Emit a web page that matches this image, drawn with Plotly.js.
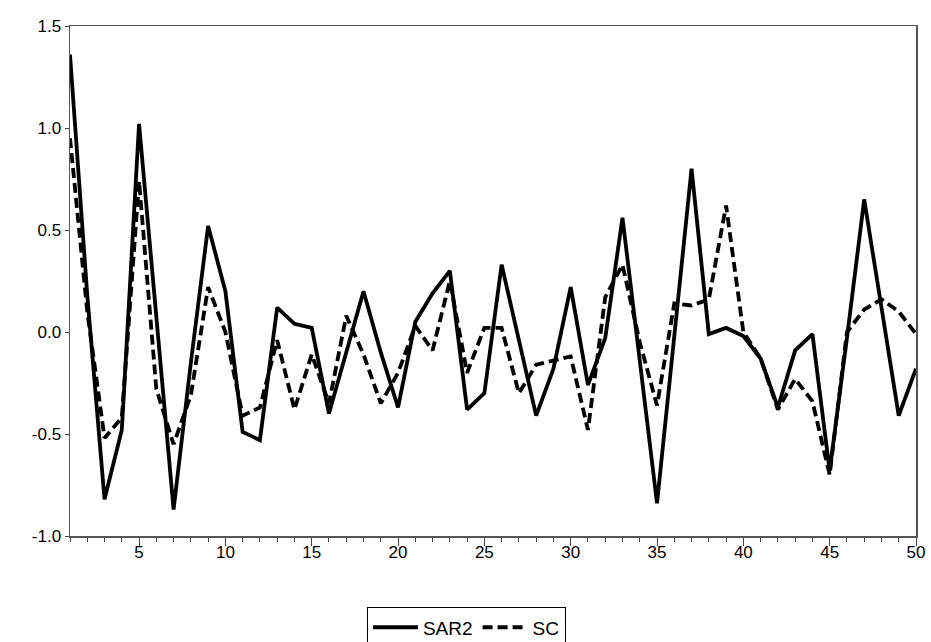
<!DOCTYPE html>
<html>
<head>
<meta charset="utf-8">
<script src="https://cdn.plot.ly/plotly-3.0.1.min.js"></script>
<style>
html,body{margin:0;padding:0;background:#fff;}
#chart{width:931px;height:642px;}
</style>
</head>
<body>
<div id="chart"></div>
<script>
const periods = Array.from({length: 50}, (_, i) => i + 1);
const sar2 = [1.36, 0.18, -0.82, -0.48, 1.02, 0.05, -0.87, -0.15, 0.52, 0.20,
              -0.49, -0.53, 0.12, 0.04, 0.02, -0.40, -0.10, 0.20, -0.10, -0.37,
              0.05, 0.19, 0.30, -0.38, -0.30, 0.33, -0.04, -0.41, -0.18, 0.22,
              -0.26, -0.03, 0.56, -0.14, -0.84, -0.02, 0.80, -0.01, 0.02, -0.02,
              -0.13, -0.37, -0.09, -0.01, -0.68, -0.03, 0.65, 0.12, -0.41, -0.18];
const sc = [0.95, 0.10, -0.52, -0.42, 0.74, -0.28, -0.55, -0.31, 0.22, 0.00,
            -0.41, -0.37, -0.04, -0.38, -0.11, -0.35, 0.08, -0.11, -0.35, -0.20,
            0.03, -0.09, 0.25, -0.20, 0.02, 0.02, -0.30, -0.16, -0.14, -0.12,
            -0.48, 0.17, 0.33, -0.05, -0.36, 0.14, 0.13, 0.16, 0.62, 0.00,
            -0.13, -0.38, -0.23, -0.34, -0.70, 0.00, 0.11, 0.16, 0.10, -0.01];
const xTicks = [5, 10, 15, 20, 25, 30, 35, 40, 45, 50];
const yTicks = [-1.0, -0.5, 0.0, 0.5, 1.0, 1.5];
const yTickText = ["-1.0", "-0.5", "0.0", "0.5", "1.0", "1.5"];

const fam = '"Liberation Sans Narrow", "Arial Narrow", "Liberation Sans", Arial, sans-serif';
const font = {family: fam, size: 17, color: '#000'};
const legendFont = {family: fam, size: 19, color: '#000'};

const traces = [
  {x: periods, y: sar2, name: 'SAR2', type: 'scatter', mode: 'lines',
   line: {color: '#000', width: 3.8}},
  {x: periods, y: sc, name: 'SC', type: 'scatter', mode: 'lines',
   line: {color: '#000', width: 3.8, dash: '10px,5px'}}
];

const layout = {
  width: 931, height: 642,
  margin: {l: 70, r: 15, t: 26, b: 106, autoexpand: false},
  paper_bgcolor: '#fff', plot_bgcolor: '#fff',
  font: font,
  showlegend: true,
  legend: {orientation: 'h', x: 0.351, xanchor: 'left', y: -0.14, yanchor: 'top',
           bordercolor: '#000', borderwidth: 1, font: legendFont, itemwidth: 45,
           tracegroupgap: 0},
  xaxis: {range: [1, 50], tickvals: xTicks, ticks: 'outside', ticklen: 8, tickcolor: '#444',
          tickwidth: 1, showgrid: false, zeroline: false, showline: true, mirror: true,
          linecolor: '#555', linewidth: 1.5, tickfont: font, ticklabelstandoff: -8,
          minor: {dtick: 1, tick0: 0, ticks: 'outside', ticklen: 4, tickcolor: '#444', showgrid: false}},
  yaxis: {range: [-1, 1.5], tickvals: yTicks, ticktext: yTickText, ticks: 'outside', ticklen: 4,
          tickcolor: '#444', showgrid: false, zeroline: false, showline: true, mirror: true,
          linecolor: '#555', linewidth: 1.5, tickfont: font}
};

Plotly.newPlot('chart', traces, layout, {displayModeBar: false, staticPlot: true});
</script>
</body>
</html>
